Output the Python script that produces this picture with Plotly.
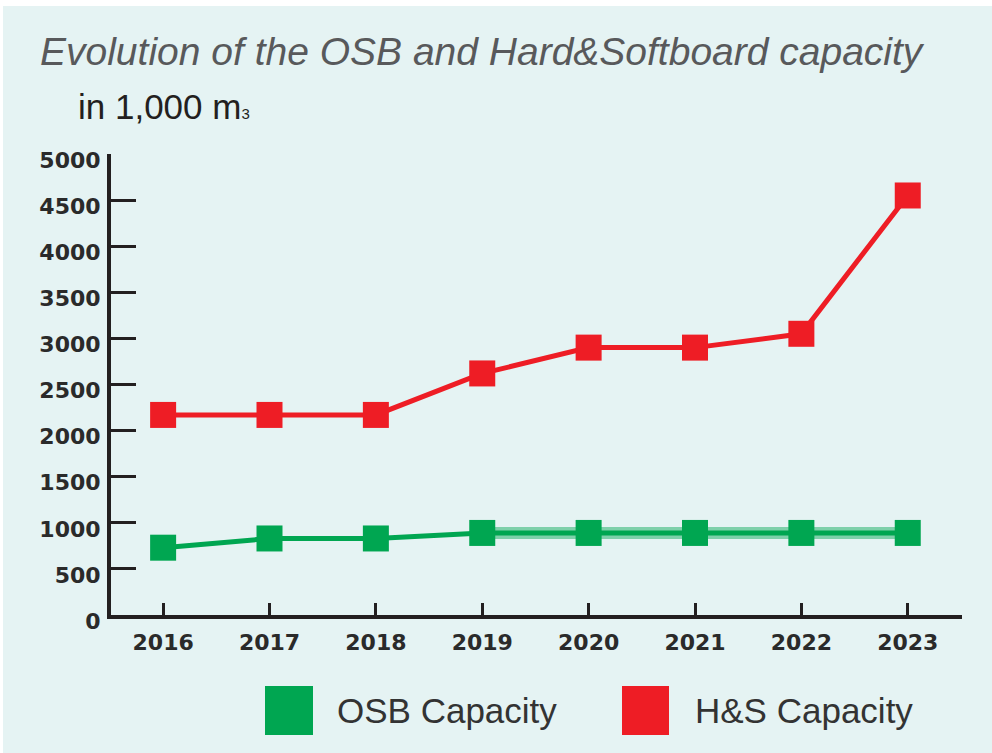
import plotly.graph_objects as go

years = [2016, 2017, 2018, 2019, 2020, 2021, 2022, 2023]
osb_capacity = [730, 830, 830, 890, 890, 890, 890, 890]
hs_capacity = [2170, 2170, 2170, 2620, 2900, 2900, 3050, 4550]
y_ticks = [0, 500, 1000, 1500, 2000, 2500, 3000, 3500, 4000, 4500, 5000]

GREEN = "#00A651"
RED = "#EE1D25"
BG = "#E5F3F3"

# plot area pixel geometry
L, R, T, B = 111, 962, 154, 615
W, H = 992, 753
pw, ph = R - L, B - T

def px(x):
    return (x - L) / pw

def py(y):
    return (B - y) / ph

fig = go.Figure()

# light halo under the flat part of the OSB line
fig.add_trace(go.Scatter(
    x=years[3:], y=osb_capacity[3:], mode="lines",
    line=dict(color="rgba(0,166,81,0.45)", width=12),
    showlegend=False, hoverinfo="skip"))

fig.add_trace(go.Scatter(
    x=years, y=osb_capacity, mode="lines+markers", name="OSB Capacity",
    line=dict(color=GREEN, width=5),
    marker=dict(symbol="square", size=26, color=GREEN, line=dict(width=0)),
    showlegend=False))

fig.add_trace(go.Scatter(
    x=years, y=hs_capacity, mode="lines+markers", name="H&S Capacity",
    line=dict(color=RED, width=5),
    marker=dict(symbol="square", size=26, color=RED, line=dict(width=0)),
    showlegend=False))

tickfont = dict(family="DejaVu Sans, Liberation Sans, sans-serif", size=22, color="#2A2A2A", weight="bold")

fig.update_layout(
    width=W, height=H,
    margin=dict(l=L, r=W - R, t=T, b=H - B, pad=0),
    paper_bgcolor="white",
    plot_bgcolor="rgba(0,0,0,0)",
    showlegend=False,
    xaxis=dict(
        range=[2015.51, 2023.51], tickvals=years, ticktext=[str(y) for y in years],
        showgrid=False, zeroline=False,
        showline=True, linecolor="#231F20", linewidth=4,
        ticks="inside", ticklen=12, tickwidth=3, tickcolor="#231F20",
        tickfont=tickfont, ticklabelstandoff=5, fixedrange=True),
    yaxis=dict(
        range=[0, 5000], tickvals=y_ticks, ticktext=[str(v) for v in y_ticks],
        showgrid=False, zeroline=False,
        showline=True, linecolor="#231F20", linewidth=4,
        ticks="inside", ticklen=25, tickwidth=3, tickcolor="#231F20",
        tickfont=tickfont, ticklabelstandoff=2, ticklabelshift=6, fixedrange=True),
)

shapes = [
    dict(type="rect", xref="paper", yref="paper", layer="below",
         x0=px(3), x1=px(W), y0=py(H), y1=py(6),
         fillcolor=BG, line=dict(width=0)),
    dict(type="rect", xref="paper", yref="paper",
         x0=px(265), x1=px(313), y0=py(735), y1=py(686),
         fillcolor=GREEN, line=dict(width=0)),
    dict(type="rect", xref="paper", yref="paper",
         x0=px(622), x1=px(669), y0=py(735), y1=py(686),
         fillcolor=RED, line=dict(width=0)),
]
fig.update_layout(shapes=shapes)

annotations = [
    dict(text="<i>Evolution of the OSB and Hard&amp;Softboard capacity</i>",
         xref="paper", yref="paper", x=px(38), y=py(52), xanchor="left", yanchor="middle",
         showarrow=False, font=dict(family="Liberation Sans, Arial, sans-serif", size=39, color="#58595B")),
    dict(text="in 1,000 m<span style='font-size:15px'>3</span>",
         xref="paper", yref="paper", x=px(76), y=py(106), xanchor="left", yanchor="middle",
         showarrow=False, font=dict(family="Liberation Sans, Arial, sans-serif", size=35, color="#231F20")),
    dict(text="OSB Capacity",
         xref="paper", yref="paper", x=px(335), y=py(710), xanchor="left", yanchor="middle",
         showarrow=False, font=dict(family="Liberation Sans, Arial, sans-serif", size=35, color="#333333")),
    dict(text="H&amp;S Capacity",
         xref="paper", yref="paper", x=px(693), y=py(710), xanchor="left", yanchor="middle",
         showarrow=False, font=dict(family="Liberation Sans, Arial, sans-serif", size=35, color="#333333")),
]
fig.update_layout(annotations=annotations)

fig.write_html("out.html", config={"displayModeBar": False},
               post_script="document.body.style.margin='0';")
